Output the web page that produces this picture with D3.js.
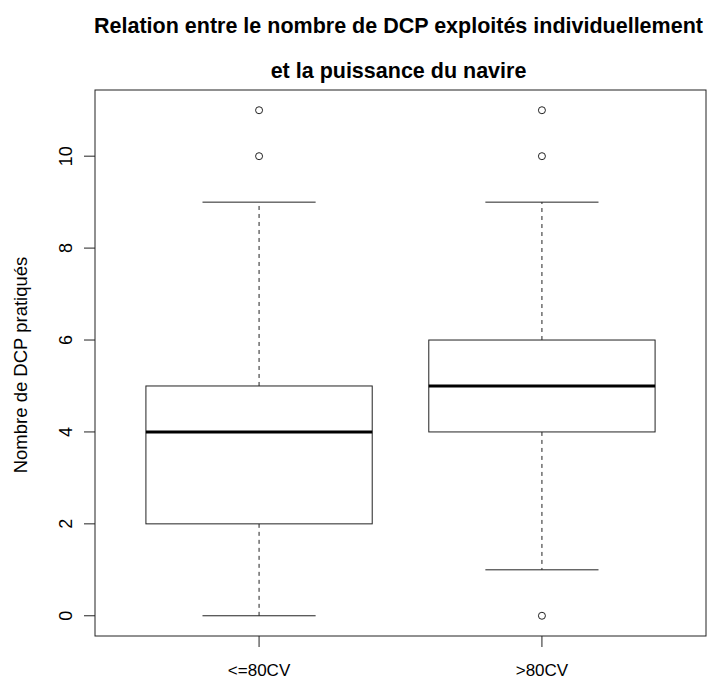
<!DOCTYPE html>
<html>
<head>
<meta charset="utf-8">
<script src="https://cdnjs.cloudflare.com/ajax/libs/d3/7.8.5/d3.min.js"></script>
<style>
  body { margin: 0; background: #fff; }
  text { font-family: "Liberation Sans", Arial, sans-serif; fill: #000; }
</style>
</head>
<body>
<script>
var groups = ['<=80CV', '>80CV'];
var whiskLow = [0, 1];
var q1 = [2, 4];
var medians = [4, 5];
var q3 = [5, 6];
var whiskHigh = [9, 9];
var outliers = [[10, 11], [0, 10, 11]];
var yTicks = [0, 2, 4, 6, 8, 10];
var titleLines = ['Relation entre le nombre de DCP exploités individuellement', 'et la puissance du navire'];
var yLabel = 'Nombre de DCP pratiqués';

var W = 716, H = 679;
var mLeft = 95, mRight = 706, mTop = 90, mBottom = 636;

var svg = d3.select('body').append('svg')
  .attr('width', W).attr('height', H);

var x = d3.scaleLinear().domain([0.42, 2.58]).range([mLeft, mRight]);
var y = d3.scaleLinear().domain([-0.44, 11.44]).range([mBottom, mTop]);
var unit = x(2) - x(1);

// frame
svg.append('rect')
  .attr('x', mLeft).attr('y', mTop)
  .attr('width', mRight - mLeft).attr('height', mBottom - mTop)
  .attr('fill', 'none').attr('stroke', '#222').attr('stroke-width', 1);

// title
svg.selectAll('.title').data(titleLines).enter().append('text')
  .attr('x', (mLeft + mRight) / 2 - 2)
  .attr('y', (d, i) => 33 + i * 45)
  .attr('text-anchor', 'middle')
  .style('font-size', '21.5px').style('font-weight', 'bold')
  .text(d => d);

// y axis
var yAxis = svg.append('g');
yAxis.selectAll('line').data(yTicks).enter().append('line')
  .attr('x1', mLeft - 11).attr('x2', mLeft)
  .attr('y1', d => y(d)).attr('y2', d => y(d))
  .attr('stroke', '#222');
yAxis.selectAll('text').data(yTicks).enter().append('text')
  .attr('transform', d => 'translate(72,' + y(d) + ') rotate(-90)')
  .attr('text-anchor', 'middle')
  .style('font-size', '18px')
  .text(d => d);

svg.append('text')
  .attr('transform', 'translate(27,' + ((mTop + mBottom) / 2 + 2) + ') rotate(-90)')
  .attr('text-anchor', 'middle')
  .style('font-size', '18.5px')
  .text(yLabel);

// x axis
var xAxis = svg.append('g');
xAxis.selectAll('line').data(groups).enter().append('line')
  .attr('x1', (d, i) => x(i + 1)).attr('x2', (d, i) => x(i + 1))
  .attr('y1', mBottom).attr('y2', mBottom + 11)
  .attr('stroke', '#222');
xAxis.selectAll('text').data(groups).enter().append('text')
  .attr('x', (d, i) => x(i + 1)).attr('y', 676)
  .attr('text-anchor', 'middle')
  .style('font-size', '17px')
  .text(d => d);

// boxes
groups.forEach(function (g, i) {
  var cx = x(i + 1);
  var bw = unit * 0.8 / 2, ww = unit * 0.4 / 2;
  var grp = svg.append('g');
  // whiskers
  grp.append('line').attr('x1', cx).attr('x2', cx)
    .attr('y1', y(q3[i])).attr('y2', y(whiskHigh[i]))
    .attr('stroke', '#222').attr('stroke-dasharray', '4,4');
  grp.append('line').attr('x1', cx).attr('x2', cx)
    .attr('y1', y(q1[i])).attr('y2', y(whiskLow[i]))
    .attr('stroke', '#222').attr('stroke-dasharray', '4,4');
  [whiskLow[i], whiskHigh[i]].forEach(function (v) {
    grp.append('line').attr('x1', cx - ww).attr('x2', cx + ww)
      .attr('y1', y(v)).attr('y2', y(v)).attr('stroke', '#222');
  });
  grp.append('rect')
    .attr('x', cx - bw).attr('y', y(q3[i]))
    .attr('width', bw * 2).attr('height', y(q1[i]) - y(q3[i]))
    .attr('fill', '#fff').attr('stroke', '#222');
  grp.append('line').attr('x1', cx - bw).attr('x2', cx + bw)
    .attr('y1', y(medians[i])).attr('y2', y(medians[i]))
    .attr('stroke', '#000').attr('stroke-width', 3);
  grp.selectAll('circle').data(outliers[i]).enter().append('circle')
    .attr('cx', cx).attr('cy', d => y(d)).attr('r', 3.5)
    .attr('fill', 'none').attr('stroke', '#222');
});
</script>
</body>
</html>
